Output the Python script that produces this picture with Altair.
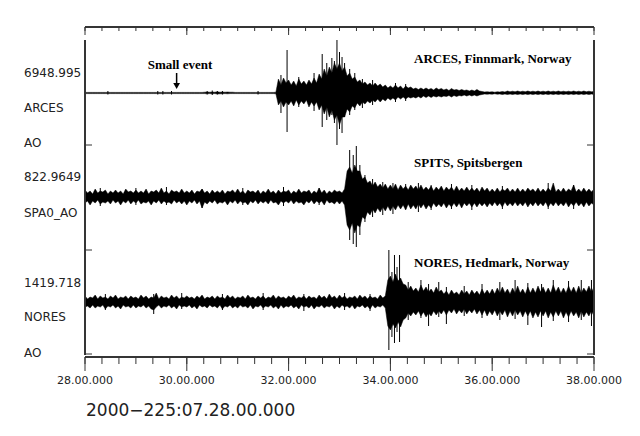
import altair as alt
import pandas as pd

# ---------------- data ----------------
# time grid (minutes after 07:00), every 0.05 min, 28.00 .. 38.00
T = [round(28 + 0.05 * i, 2) for i in range(201)]

STATIONS = ["ARCES", "SPITS", "NORES"]

# envelope half-amplitudes (display units) above / below each trace baseline
# (one row per minute: 28, 29, ... 37, then the value at 38.00)
ARCES_HI = [
    0.6, 0.6, 0.6, 0.6, 0.6, 0.6, 0.6, 0.6, 0.6, 0.6, 0.6, 0.6, 0.6, 0.6, 0.6, 0.6, 0.6, 0.6, 0.6, 0.6,
    0.6, 0.6, 0.6, 0.6, 0.6, 0.6, 0.6, 0.6, 0.6, 0.6, 0.6, 0.6, 0.6, 0.6, 0.6, 0.6, 0.6, 0.6, 0.6, 0.6,
    0.6, 0.6, 0.6, 0.6, 0.6, 0.6, 0.6, 0.8, 1.0, 0.8, 1.0, 0.8, 1.2, 0.8, 1.0, 0.8, 1.0, 0.8, 0.8, 0.6,
    0.6, 0.6, 0.6, 0.6, 0.6, 0.6, 0.6, 0.6, 0.6, 0.6, 0.6, 0.6, 0.6, 0.6, 0.6, 0.8, 14, 8, 15, 10,
    13, 8, 12, 7, 14, 9, 12, 8, 13, 9, 15, 10, 19, 14, 24, 17, 26, 20, 30, 24,
    30, 22, 26, 17, 20, 14, 16, 11, 13, 9, 11, 8, 10, 7, 10, 7, 9, 6, 8, 5,
    7, 5, 8, 5, 7, 4, 7, 5, 6, 4, 5, 3.5, 5, 3.5, 5, 3.5, 4.5, 3, 5, 3.5,
    4.5, 3, 4, 2.5, 4.5, 3, 3.5, 2.5, 3.5, 2.5, 3, 2, 3, 2, 3.5, 2, 1.5, 1, 1.2, 1,
    1.2, 0.8, 1.2, 1, 1.5, 1, 2, 1.2, 1.8, 1.2, 2, 1.2, 1.8, 1.2, 2, 1.2, 1.8, 1.2, 2, 1.2,
    1.8, 1.2, 2, 1.2, 1.8, 1.2, 2, 1.2, 1.8, 1.2, 1.8, 1.2, 2, 1.2, 1.8, 1.2, 2, 1.2, 1.8, 1.2,
    1.5]
ARCES_LO = [
    0.6, 0.6, 0.6, 0.6, 0.6, 0.6, 0.6, 0.6, 0.6, 0.6, 0.6, 0.6, 0.6, 0.6, 0.6, 0.6, 0.6, 0.6, 0.6, 0.6,
    0.6, 0.6, 0.6, 0.6, 0.6, 0.6, 0.6, 0.6, 0.6, 0.6, 0.6, 0.6, 0.6, 0.6, 0.6, 0.6, 0.6, 0.6, 0.6, 0.6,
    0.6, 0.6, 0.6, 0.6, 0.6, 0.6, 0.6, 0.6, 0.8, 0.6, 0.8, 0.6, 1.0, 0.8, 0.8, 0.6, 0.8, 0.6, 0.6, 0.6,
    0.6, 0.6, 0.6, 0.6, 0.6, 0.6, 0.6, 0.6, 0.6, 0.6, 0.6, 0.6, 0.6, 0.6, 0.6, 0.8, 12, 8, 14, 9,
    12, 8, 13, 7, 12, 8, 11, 7, 14, 9, 13, 9, 17, 12, 21, 14, 24, 17, 27, 22,
    32, 24, 24, 16, 19, 13, 15, 10, 13, 9, 11, 8, 10, 7, 9, 6, 9, 6, 8, 5,
    7, 5, 7, 4, 6, 4, 6, 4, 5, 4, 5, 3.5, 5, 3, 4.5, 3, 4.5, 3, 4, 3,
    4, 3, 3.5, 2.5, 4, 2.5, 3.5, 2.5, 3, 2, 3, 2, 3, 2, 3, 2, 1.5, 1, 1.2, 1,
    1.2, 0.8, 1.2, 1, 1.5, 1, 1.5, 1, 1.5, 1, 1.5, 1, 1.5, 1, 1.5, 1, 1.5, 1, 1.5, 1,
    1.5, 1, 1.5, 1, 1.5, 1, 1.5, 1, 1.5, 1, 1.5, 1, 1.5, 1, 1.5, 1, 1.5, 1, 1.5, 1,
    1.5]

SPITS_HI = [
    7, 4, 6, 3, 8, 4, 6, 5, 7, 3, 6, 4, 7, 4, 6, 3, 8, 5, 6, 4,
    7, 4, 6, 4, 8, 3, 6, 5, 7, 4, 9, 4, 6, 3, 7, 5, 6, 4, 8, 4,
    6, 4, 7, 3, 6, 5, 8, 4, 6, 3, 7, 4, 6, 4, 7, 3, 6, 5, 7, 4,
    8, 4, 6, 3, 7, 5, 6, 4, 7, 3, 6, 4, 8, 4, 6, 3, 7, 4, 6, 5,
    7, 3, 6, 4, 8, 4, 6, 5, 7, 3, 6, 4, 9, 4, 7, 3, 6, 4, 7, 5,
    6, 4, 8, 26, 30, 24, 32, 26, 26, 18, 20, 14, 16, 11, 15, 10, 13, 9, 13, 8,
    12, 8, 13, 7, 12, 8, 11, 7, 12, 8, 11, 7, 12, 7, 10, 7, 11, 6, 10, 7,
    11, 6, 10, 7, 10, 6, 11, 6, 9, 6, 10, 6, 9, 6, 9, 5, 10, 6, 9, 5,
    8, 5, 9, 5, 8, 6, 9, 5, 8, 5, 9, 5, 8, 5, 9, 6, 8, 5, 9, 5,
    8, 5, 9, 6, 14, 5, 8, 5, 9, 5, 8, 6, 12, 5, 8, 5, 9, 5, 8, 5,
    8]
SPITS_LO = [
    6, 4, 8, 4, 6, 3, 7, 5, 6, 4, 7, 3, 6, 4, 8, 4, 6, 3, 7, 4,
    6, 3, 7, 5, 6, 4, 8, 4, 6, 3, 7, 4, 6, 5, 7, 3, 6, 4, 7, 4,
    8, 4, 6, 3, 7, 4, 11, 5, 7, 4, 6, 3, 7, 5, 6, 4, 8, 4, 6, 3,
    7, 4, 6, 5, 8, 4, 6, 3, 7, 4, 6, 4, 7, 3, 6, 5, 8, 4, 6, 4,
    6, 3, 7, 4, 6, 5, 8, 4, 6, 3, 7, 4, 6, 4, 8, 3, 6, 5, 7, 4,
    7, 4, 8, 28, 33, 26, 36, 28, 30, 20, 22, 15, 18, 12, 16, 11, 15, 10, 14, 9,
    14, 9, 13, 8, 12, 8, 13, 7, 12, 8, 12, 7, 11, 7, 12, 8, 11, 6, 10, 7,
    10, 6, 11, 7, 10, 6, 10, 6, 11, 6, 9, 6, 10, 6, 10, 6, 9, 6, 10, 6,
    9, 5, 9, 6, 10, 5, 9, 6, 9, 5, 9, 6, 9, 5, 10, 6, 9, 5, 9, 6,
    9, 5, 10, 6, 9, 5, 9, 6, 9, 5, 10, 6, 9, 5, 9, 6, 10, 5, 9, 6,
    8]

NORES_HI = [
    6, 3, 5, 4, 7, 3, 6, 4, 5, 3, 6, 4, 7, 3, 5, 4, 6, 3, 6, 4,
    5, 3, 7, 4, 6, 3, 5, 4, 9, 3, 6, 4, 5, 3, 7, 4, 6, 3, 5, 4,
    6, 4, 5, 3, 6, 4, 7, 3, 5, 4, 6, 3, 6, 4, 5, 3, 7, 4, 6, 3,
    5, 4, 6, 3, 7, 4, 5, 3, 6, 4, 6, 3, 5, 4, 7, 3, 6, 4, 5, 3,
    6, 4, 7, 3, 5, 4, 6, 3, 6, 4, 5, 3, 7, 4, 6, 3, 8, 4, 6, 3,
    7, 4, 6, 3, 5, 4, 6, 3, 7, 4, 6, 3, 6, 4, 5, 3, 7, 4, 6, 22,
    26, 20, 28, 21, 24, 18, 17, 12, 16, 11, 14, 10, 17, 11, 15, 10, 13, 9, 15, 10,
    12, 8, 11, 7, 12, 8, 10, 7, 12, 8, 11, 7, 12, 8, 11, 7, 13, 8, 12, 8,
    13, 8, 14, 9, 15, 9, 13, 8, 14, 9, 16, 9, 13, 8, 15, 9, 14, 9, 16, 10,
    15, 9, 14, 9, 17, 10, 15, 9, 14, 9, 16, 10, 15, 9, 16, 9, 14, 10, 16, 10,
    15]
NORES_LO = [
    5, 4, 6, 3, 6, 4, 5, 3, 7, 4, 5, 3, 6, 4, 7, 3, 5, 4, 6, 3,
    6, 4, 5, 3, 6, 4, 7, 8, 5, 3, 6, 4, 5, 3, 6, 4, 7, 3, 5, 4,
    5, 3, 6, 4, 7, 3, 5, 4, 6, 3, 5, 4, 6, 3, 7, 4, 5, 3, 6, 4,
    6, 3, 5, 4, 6, 3, 7, 4, 5, 3, 6, 4, 5, 3, 6, 4, 7, 3, 6, 4,
    5, 3, 6, 4, 7, 3, 5, 4, 6, 3, 7, 4, 5, 3, 6, 4, 5, 3, 7, 4,
    6, 3, 5, 4, 6, 3, 7, 4, 5, 3, 6, 4, 7, 3, 6, 4, 5, 3, 6, 24,
    28, 22, 26, 20, 25, 18, 16, 11, 14, 10, 13, 9, 14, 10, 15, 11, 14, 9, 13, 9,
    12, 8, 13, 8, 11, 7, 12, 8, 11, 7, 12, 8, 11, 7, 12, 8, 13, 8, 14, 9,
    13, 8, 14, 9, 13, 8, 15, 9, 14, 8, 13, 9, 15, 9, 14, 9, 16, 10, 15, 9,
    14, 9, 16, 10, 15, 9, 14, 9, 16, 10, 15, 9, 14, 10, 16, 9, 15, 10, 14, 9,
    14]

# individual large excursions: time, peak up, peak down
ARCES_SPIKE_T = [28.45, 29.43, 29.53, 29.7, 30.4, 30.5, 30.6, 30.7, 31.4,
                 31.85, 31.97, 32.2, 32.5, 32.66, 32.75, 32.85, 32.9, 32.95, 33.0, 33.05, 33.1, 33.2, 33.3, 33.45, 33.65, 34.1, 34.3]
ARCES_SPIKE_UP = [2, 2, 2, 2, 2, 2.5, 2, 2, 2,
                  18, 43, 16, 20, 39, 30, 35, 32, 53, 41, 36, 30, 24, 20, 14, 13, 10, 9]
ARCES_SPIKE_DN = [1.5, 1.5, 1.5, 1.5, 1.5, 2, 1.5, 1.5, 1.5,
                  20, 39, 14, 18, 34, 27, 22, 30, 52, 36, 40, 24, 22, 17, 15, 12, 9, 8]

SPITS_SPIKE_T = [28.3, 29.0, 29.6, 30.3, 31.1, 31.9, 32.6, 33.2, 33.27, 33.33, 33.4, 33.5, 33.65, 33.85, 34.05, 34.3, 34.55, 34.8, 35.2, 35.6, 36.2, 37.1, 37.6]
SPITS_SPIKE_UP = [9, 9, 10, 8, 9, 10, 9, 47, 42, 51, 32, 22, 18, 15, 14, 13, 14, 12, 13, 12, 11, 14, 12]
SPITS_SPIKE_DN = [9, 8, 8, 11, 8, 9, 8, 43, 47, 50, 38, 25, 20, 18, 17, 12, 15, 13, 12, 13, 12, 12, 12]

NORES_SPIKE_T = [28.4, 29.35, 29.9, 30.7, 31.5, 32.3, 33.1, 33.6, 33.97, 34.03, 34.08, 34.13, 34.18, 34.35, 34.6, 34.75, 34.95, 35.1, 35.45, 35.8, 36.15, 36.45, 36.7, 36.97, 37.2, 37.5, 37.75, 37.95]
NORES_SPIKE_UP = [8, 8, 9, 8, 9, 8, 9, 8, 52, 30, 47, 35, 47, 20, 22, 18, 20, 15, 16, 18, 20, 22, 19, 18, 22, 21, 22, 22]
NORES_SPIKE_DN = [8, 12, 7, 8, 8, 9, 8, 9, 48, 35, 41, 30, 40, 18, 16, 24, 15, 22, 14, 16, 18, 17, 23, 25, 19, 20, 18, 24]

# texts and ticks
LEFT_LABELS = ["6948.995", "ARCES", "AO", "822.9649", "SPA0_AO", "1419.718", "NORES", "AO"]
STATION_TITLES = ["ARCES, Finnmark, Norway", "SPITS, Spitsbergen", "NORES, Hedmark, Norway"]
MAJOR_TICKS = [28, 30, 32, 34, 36, 38]
MAJOR_LABELS = ["28.00.000", "30.00.000", "32.00.000", "34.00.000", "36.00.000", "38.00.000"]
MINOR_TICKS = [round(28 + k / 3, 4) for k in range(31)]
TIME_TITLE = "2000\u2212225:07.28.00.000"
EVENT_TEXT = "Small event"
EVENT_T = 29.8

# ---------------- layout ----------------
W, H = 509, 330
BASE = {"ARCES": 264, "SPITS": 160, "NORES": 55}     # trace baselines on the y scale
LEFT_LABEL_Y = [46, 81, 116, 150, 186, 256, 290, 326]
TITLE_Y = [32, 136, 236]
SEP_Y = [118, 223, 327]
FRAME = "#333333"
TXT = "#222222"

his = {"ARCES": ARCES_HI, "SPITS": SPITS_HI, "NORES": NORES_HI}
los = {"ARCES": ARCES_LO, "SPITS": SPITS_LO, "NORES": NORES_LO}
spk = {"ARCES": (ARCES_SPIKE_T, ARCES_SPIKE_UP, ARCES_SPIKE_DN),
       "SPITS": (SPITS_SPIKE_T, SPITS_SPIKE_UP, SPITS_SPIKE_DN),
       "NORES": (NORES_SPIKE_T, NORES_SPIKE_UP, NORES_SPIKE_DN)}

rows = []
for s in STATIONS:
    for t, h, l in zip(T, his[s], los[s]):
        rows.append({"station": s, "t": t, "top": BASE[s] + h, "bot": BASE[s] - l})
env = pd.DataFrame(rows)

srows = []
for s in STATIONS:
    ts, ups, dns = spk[s]
    for t, u, d in zip(ts, ups, dns):
        srows.append({"station": s, "t": t, "top": BASE[s] + u, "bot": BASE[s] - d})
spikes = pd.DataFrame(srows)

xscale = alt.Scale(domain=[28, 38], nice=False, zero=False)
yscale = alt.Scale(domain=[0, H], nice=False, zero=False)

area = alt.Chart(env).mark_area(color="black", interpolate="linear", strokeWidth=0.5, stroke="black").encode(
    x=alt.X("t:Q", scale=xscale, axis=None),
    y=alt.Y("top:Q", scale=yscale, axis=None),
    y2="bot:Q",
    detail="station:N",
)

spike_rules = alt.Chart(spikes).mark_rule(color="black", strokeWidth=1).encode(
    x=alt.X("t:Q", scale=xscale, axis=None),
    y=alt.Y("top:Q", scale=yscale, axis=None),
    y2="bot:Q",
)

minor_df = pd.DataFrame({"t": MINOR_TICKS})
major_df = pd.DataFrame({"t": MAJOR_TICKS, "label": MAJOR_LABELS})

top_minor = alt.Chart(minor_df).mark_rule(color=FRAME, strokeWidth=1).encode(
    x=alt.X("t:Q", scale=xscale, axis=None), y=alt.value(0), y2=alt.value(4))
top_major = alt.Chart(major_df).mark_rule(color=FRAME, strokeWidth=1).encode(
    x=alt.X("t:Q", scale=xscale, axis=None), y=alt.value(0), y2=alt.value(8))
bot_minor = alt.Chart(minor_df).mark_rule(color=FRAME, strokeWidth=1).encode(
    x=alt.X("t:Q", scale=xscale, axis=None), y=alt.value(H), y2=alt.value(H + 7))
bot_major = alt.Chart(major_df).mark_rule(color=FRAME, strokeWidth=1).encode(
    x=alt.X("t:Q", scale=xscale, axis=None), y=alt.value(H), y2=alt.value(H + 14))
bot_labels = alt.Chart(major_df).mark_text(align="center", baseline="middle", font="DejaVu Sans",
                                           fontSize=11, color=TXT).encode(
    x=alt.X("t:Q", scale=xscale, axis=None), y=alt.value(H + 24), text="label:N")

top_line = alt.Chart(major_df).mark_rule(color=FRAME, strokeWidth=1).encode(
    x=alt.value(0), x2=alt.value(W), y=alt.value(0))
bot_line = alt.Chart(major_df).mark_rule(color=FRAME, strokeWidth=1).encode(
    x=alt.value(0), x2=alt.value(W), y=alt.value(H))
left_line = alt.Chart(major_df).mark_rule(color=FRAME, strokeWidth=1).encode(
    x=alt.value(0), y=alt.value(13), y2=alt.value(328))
right_line = alt.Chart(major_df).mark_rule(color=FRAME, strokeWidth=1).encode(
    x=alt.value(W), y=alt.value(13), y2=alt.value(328))

sep_df = pd.DataFrame({"py": SEP_Y})
sep_left = alt.Chart(sep_df).mark_rule(color=FRAME, strokeWidth=1).encode(
    y=alt.Y("py:Q", scale=None, axis=None), x=alt.value(0), x2=alt.value(7))
sep_right = alt.Chart(sep_df).mark_rule(color=FRAME, strokeWidth=1).encode(
    y=alt.Y("py:Q", scale=None, axis=None), x=alt.value(W - 7), x2=alt.value(W))

left_df = pd.DataFrame({"label": LEFT_LABELS, "py": LEFT_LABEL_Y})
left_text = alt.Chart(left_df).mark_text(align="left", baseline="middle", font="DejaVu Sans",
                                         fontSize=12, color=TXT).encode(
    x=alt.value(-61), y=alt.Y("py:Q", scale=None, axis=None), text="label:N")

title_df = pd.DataFrame({"label": STATION_TITLES, "py": TITLE_Y})
title_text = alt.Chart(title_df).mark_text(align="left", baseline="middle", font="Liberation Serif",
                                           fontSize=13, fontWeight="bold", color="black").encode(
    x=alt.value(329), y=alt.Y("py:Q", scale=None, axis=None), text="label:N")

ev_df = pd.DataFrame({"t": [EVENT_T], "label": [EVENT_TEXT]})
ev_text = alt.Chart(ev_df).mark_text(align="center", baseline="middle", font="Liberation Serif",
                                     fontSize=13, fontWeight="bold", color="black").encode(
    x=alt.value(95), y=alt.value(38), text="label:N")
ev_stem = alt.Chart(ev_df).mark_rule(color="black", strokeWidth=1.5).encode(
    x=alt.X("t:Q", scale=xscale, axis=None), y=alt.value(46), y2=alt.value(58))
ev_head = alt.Chart(ev_df).mark_point(shape="triangle-down", filled=True, size=45, color="black", opacity=1).encode(
    x=alt.X("t:Q", scale=xscale, axis=None), y=alt.value(59))

time_df = pd.DataFrame({"label": [TIME_TITLE]})
time_text = alt.Chart(time_df).mark_text(align="left", baseline="middle", font="DejaVu Sans",
                                         fontSize=17, color=TXT).encode(
    x=alt.value(1), y=alt.value(384), text="label:N")

chart = alt.layer(
    area, spike_rules, top_minor, top_major, bot_minor, bot_major, bot_labels,
    top_line, bot_line, left_line, right_line,
    sep_left, sep_right, left_text, title_text, ev_text, ev_stem, ev_head, time_text,
).properties(
    width=W, height=H,
    autosize=alt.AutoSizeParams(type="none"),
    padding={"left": 77, "top": 19, "right": 38, "bottom": 71},
    background="white",
).configure_view(stroke=None)

chart.save("out.html", embed_options={"renderer": "svg", "actions": False})
